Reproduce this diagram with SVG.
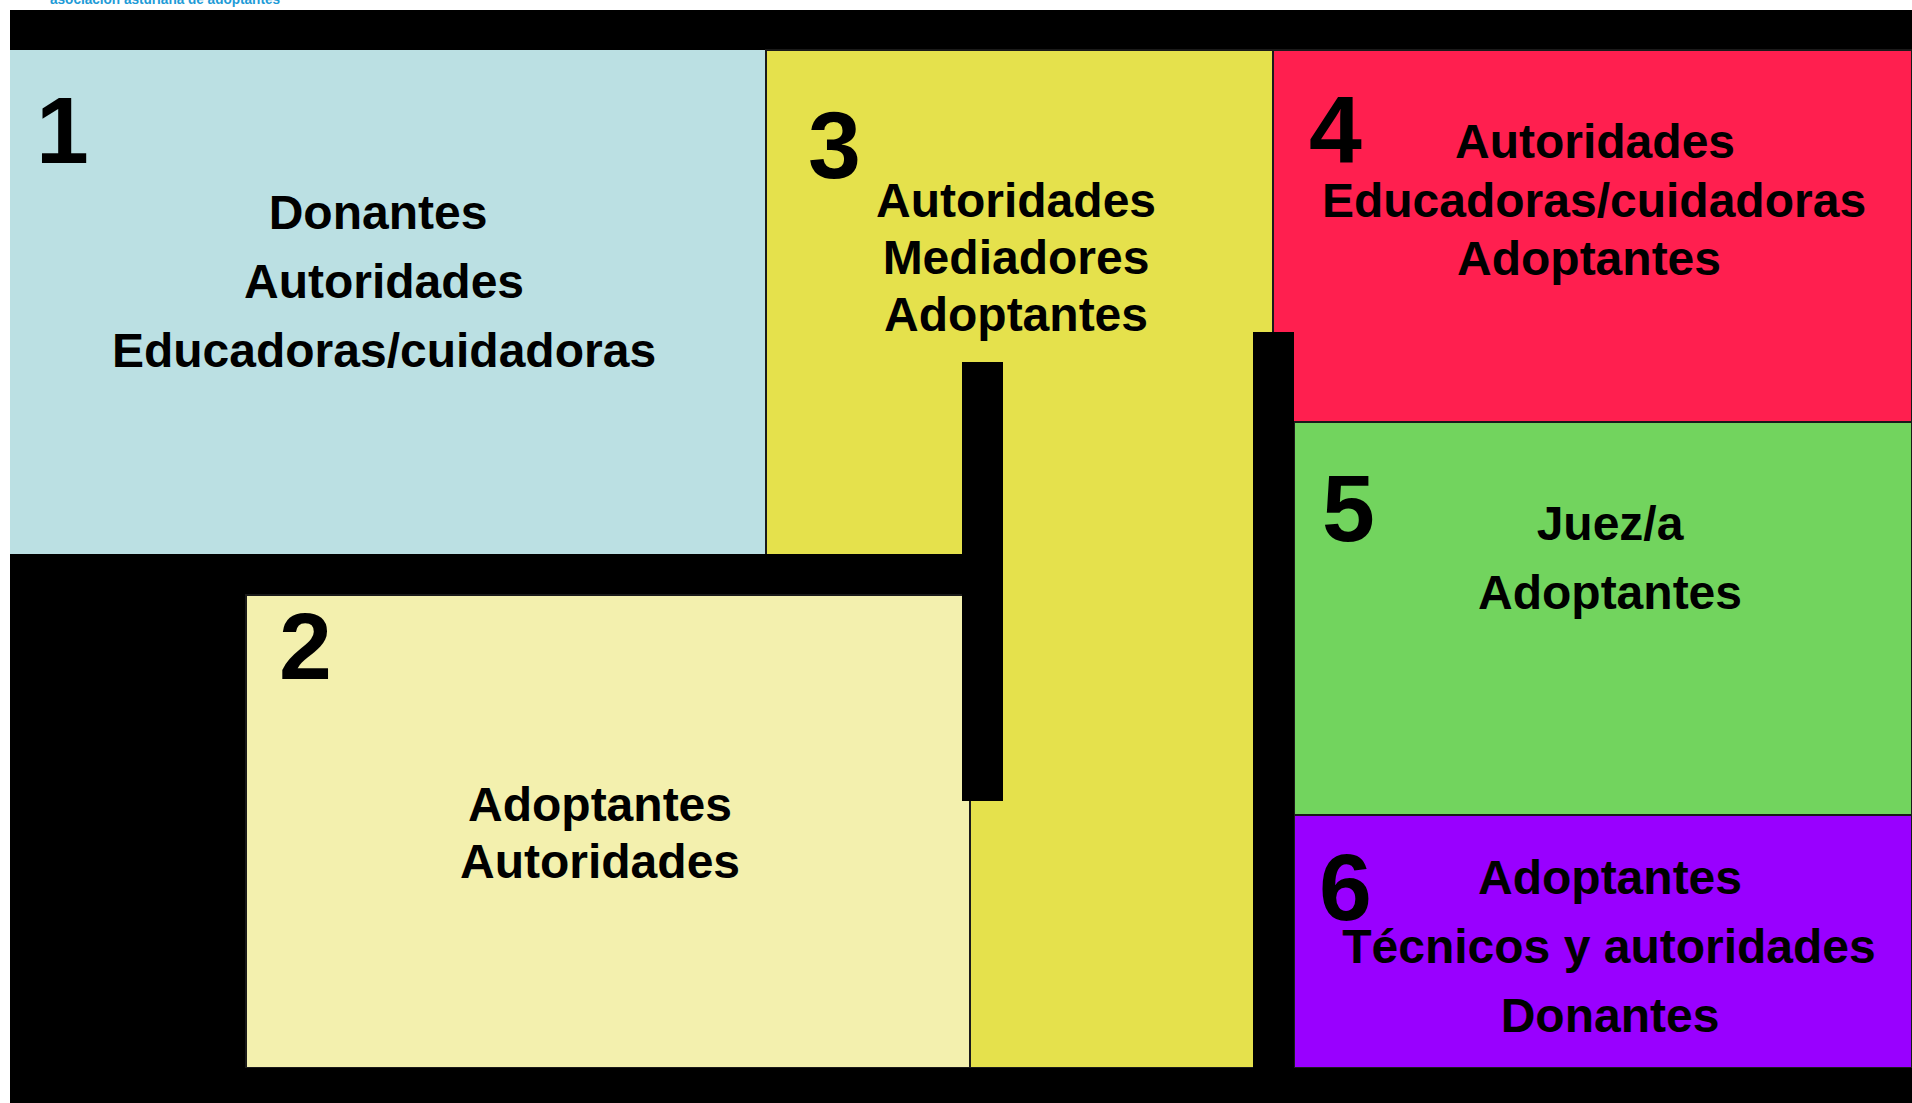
<svg xmlns="http://www.w3.org/2000/svg" width="1912" height="1103" viewBox="0 0 1912 1103">
<style>
.lbl{font-family:"Liberation Sans",Arial,sans-serif;font-weight:bold;font-size:48px;fill:#000;text-anchor:middle}
.num{font-family:"Liberation Sans",Arial,sans-serif;font-weight:bold;font-size:95px;fill:#000}
.box{stroke:#1a1a1a;stroke-width:2}
.logo{font-family:"Liberation Sans",Arial,sans-serif;font-weight:bold;font-size:14px;fill:#1e9bd7}
</style>
<rect x="0" y="0" width="1912" height="1103" fill="#ffffff"/>
<text class="logo" x="50" y="4" textLength="230" lengthAdjust="spacingAndGlyphs">asociación asturiana de adoptantes</text>
<rect x="10" y="10" width="1902" height="1093" fill="#000000"/>

<g id="node3">
<rect class="box" x="766" y="50" width="507" height="1018" fill="#e5e14c"/>
<text class="num" x="808" y="178">3</text>
<text class="lbl" x="1016" y="217">Autoridades</text>
<text class="lbl" x="1016" y="274">Mediadores</text>
<text class="lbl" x="1016" y="331">Adoptantes</text>
</g>

<g id="node1">
<rect x="10" y="50" width="756" height="504" fill="#bbe0e3"/>
<line x1="766" y1="50" x2="766" y2="554" stroke="#1a1a1a" stroke-width="2"/>
<text class="num" x="36" y="163">1</text>
<text class="lbl" x="378" y="229">Donantes</text>
<text class="lbl" x="384" y="298">Autoridades</text>
<text class="lbl" x="384" y="367">Educadoras/cuidadoras</text>
</g>

<g id="node4">
<rect class="box" x="1273" y="50" width="639" height="372" fill="#ff1f4f"/>
<text class="num" x="1309" y="162">4</text>
<text class="lbl" x="1595" y="158">Autoridades</text>
<text class="lbl" x="1594" y="217">Educadoras/cuidadoras</text>
<text class="lbl" x="1589" y="275">Adoptantes</text>
</g>

<g id="connectors">
<rect x="10" y="554" width="952" height="41" fill="#000000"/>
</g>

<g id="node2">
<rect class="box" x="246" y="595" width="724" height="473" fill="#f3f0ae"/>
<text class="num" x="279" y="679">2</text>
<text class="lbl" x="600" y="821">Adoptantes</text>
<text class="lbl" x="600" y="878">Autoridades</text>
</g>

<g id="node5">
<rect class="box" x="1294" y="422" width="618" height="393" fill="#72d45e"/>
<text class="num" x="1322" y="541">5</text>
<text class="lbl" x="1610" y="540">Juez/a</text>
<text class="lbl" x="1610" y="609">Adoptantes</text>
</g>

<g id="node6">
<rect class="box" x="1294" y="815" width="618" height="253" fill="#9900ff"/>
<text class="num" x="1319" y="920">6</text>
<text class="lbl" x="1610" y="894">Adoptantes</text>
<text class="lbl" x="1609" y="963">Técnicos y autoridades</text>
<text class="lbl" x="1610" y="1032">Donantes</text>
</g>

<g id="dividers">
<rect x="962" y="362" width="41" height="439" fill="#000000"/>
<rect x="1253" y="332" width="41" height="736" fill="#000000"/>
<rect x="10" y="1068" width="1902" height="35" fill="#000000"/>
</g>
</svg>
